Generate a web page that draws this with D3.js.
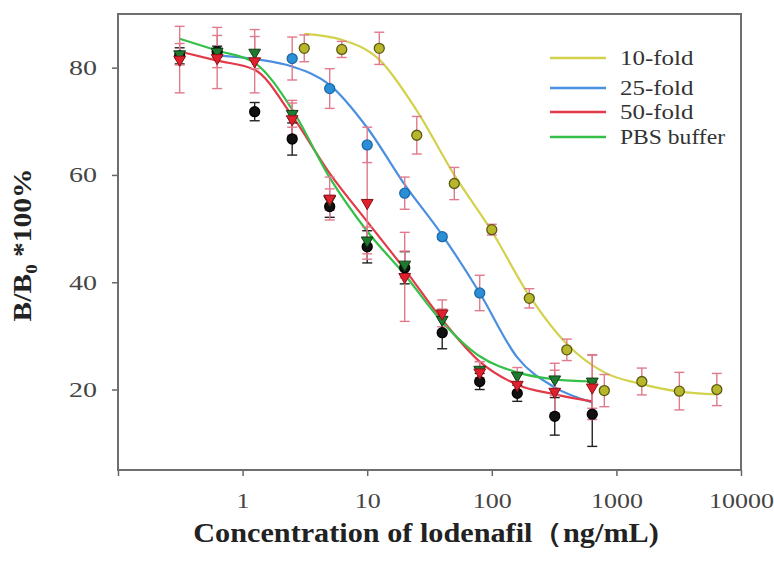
<!DOCTYPE html>
<html>
<head>
<meta charset="utf-8">
<script src="https://cdn.jsdelivr.net/npm/d3@7"></script>
<style>
  body { margin: 0; background: #fff; }
  svg { display: block; font-family: "Liberation Serif", "Times New Roman", serif; }
</style>
</head>
<body>
<div id="chart"></div>
<script>
// concentrations (ng/mL)
var conc = [0.3125, 0.625, 1.25, 2.5, 5, 10, 20, 40, 80, 160, 320, 640]
var conc10 = [3.125, 6.25, 12.5, 25, 50, 100, 200, 400, 800, 1600, 3200, 6400]
var conc25 = [2.5, 5, 10, 20, 40, 80]

// measured points
var fold10Values = [83.6, 83.4, 83.6, 67.4, 58.4, 49.8, 37.0, 27.4, 19.8, 21.5, 19.7, 20.0]
var fold10Err = [2.5, 1.5, 3, 3.5, 3, 1, 1.8, 2, 3, 2.5, 3.5, 3]
var fold25Values = [81.7, 76.1, 65.6, 56.6, 48.5, 38.0]
var fold25Err = [4, 3.7, 3.3, 3, 0.5, 3.3]
var fold50Values = [81.5, 81.8, 81.2, 70.4, 55.6, 54.8, 41.0, 34.2, 23.2, 20.9, 19.6, 20.4]
var fold50Err = [6.2, 5.7, 5.9, 3, 4, 10.5, 8.3, 2.5, 2, 2, 4, 6]
var pbsValues = [82.5, 83.0, 82.8, 71.4, 55.4, 47.8, 43.3, 33.0, 23.7, 22.6, 21.9, 21.5]
var pbsErr = [2, 3, 3, 2.5, 2, 2.5, 2.5, 2, 1.5, 1.5, 3, 5]
var blackValues = [82.2, 83.0, 71.8, 66.7, 54.1, 46.6, 42.7, 30.6, 21.5, 19.3, 15.0, 15.4]
var blackErr = [1.5, 1, 1.7, 3, 2, 3, 3, 3, 1.5, 1.5, 3.5, 6]

// fitted curves
var curve10Conc = [3.125, 6.25, 12.5, 25, 50, 100, 200, 400, 800, 1600, 3200, 6400]
var curve10Values = [86.3, 85.2, 81.5, 72.0, 60.0, 49.5, 37.5, 28.5, 23.2, 21.0, 19.6, 19.1]
var curve25Conc = [0.625, 1.25, 2.5, 5, 10, 20, 40, 80, 160, 320, 640]
var curve25Values = [82.3, 81.6, 80.2, 76.8, 68.8, 58.2, 48.8, 38.0, 26.0, 20.4, 17.6]
var curve50Values = [83.0, 81.3, 79.6, 71.0, 60.3, 51.3, 42.4, 33.0, 25.2, 20.9, 19.1, 17.8]
var curvePbsValues = [85.4, 83.2, 80.9, 72.2, 59.5, 49.5, 41.4, 32.6, 26.2, 23.2, 21.9, 21.5]

var legendNames = ["10-fold", "25-fold", "50-fold", "PBS buffer"]
var lineColors = ["#d2d24c", "#4a8fe0", "#e23a48", "#34c048"]
var xTicks = [0.1, 1, 10, 100, 1000, 10000]
var yTicks = [20, 40, 60, 80]

var width = 774, height = 564
var svg = d3.select("#chart").append("svg")
    .attr("width", width)
    .attr("height", height)

svg.append("rect").attr("width", width).attr("height", height).attr("fill", "#fff")

var x = d3.scaleLog().domain([0.1, 10000]).range([118, 741])
var y = d3.scaleLinear().domain([5, 90]).range([470, 14])

// the source figure is a bit wider than tall, so stretch glyphs to the same width
function stretch(sel, perChar) {
    sel.each(function() {
        var t = d3.select(this).text()
        if (t.length) d3.select(this).attr("textLength", t.length * perChar).attr("lengthAdjust", "spacingAndGlyphs")
    })
}

// axes
var yAxis = svg.append("g")
    .attr("transform", "translate(118,0)")
    .call(d3.axisLeft(y).tickValues(yTicks).tickSize(6).tickPadding(15).tickSizeOuter(0))
yAxis.select(".domain").remove()
yAxis.selectAll("line").attr("stroke", "#666").attr("stroke-width", 1.5)
yAxis.selectAll("text").attr("font-size", 22).attr("fill", "#444")
    .attr("font-family", "Liberation Serif")
    .call(stretch, 14)

var xAxis = svg.append("g")
    .attr("transform", "translate(0,470)")
    .call(d3.axisBottom(x).tickValues(xTicks).tickSize(6).tickPadding(16).tickSizeOuter(0)
        .tickFormat(function(d) { return d < 1 ? "" : d }))
xAxis.select(".domain").remove()
xAxis.selectAll("line").attr("stroke", "#666").attr("stroke-width", 1.5)
xAxis.selectAll("text").attr("font-size", 22).attr("fill", "#444")
    .attr("font-family", "Liberation Serif")
    .call(stretch, 13)

// frame
svg.append("rect")
    .attr("x", 118).attr("y", 14)
    .attr("width", 741 - 118).attr("height", 470 - 14)
    .attr("fill", "none")
    .attr("stroke", "#6e6e6e")
    .attr("stroke-width", 2)

// curves
var line = d3.line()
    .x(function(d) { return x(d[0]) })
    .y(function(d) { return y(d[1]) })
    .curve(d3.curveMonotoneX)

var curves = [
    d3.zip(curve10Conc, curve10Values),
    d3.zip(curve25Conc, curve25Values),
    d3.zip(conc, curve50Values),
    d3.zip(conc, curvePbsValues)
]
curves.forEach(function(c, i) {
    svg.append("path")
        .datum(c)
        .attr("d", line)
        .attr("fill", "none")
        .attr("stroke", lineColors[i])
        .attr("stroke-width", 2.2)
})

// point series
var series = [
    {xs: conc, ys: blackValues, err: blackErr, shape: "circle", fill: "#111", stroke: "#000", errColor: "#222"},
    {xs: conc, ys: pbsValues, err: pbsErr, shape: "tri", fill: "#1f7a30", stroke: "#0d3d14", errColor: "#e07a8c"},
    {xs: conc, ys: fold50Values, err: fold50Err, shape: "tri", fill: "#e0202c", stroke: "#8a1018", errColor: "#e07a8c"},
    {xs: conc25, ys: fold25Values, err: fold25Err, shape: "circle", fill: "#2a8fd6", stroke: "#1a6aa8", errColor: "#e07a8c"},
    {xs: conc10, ys: fold10Values, err: fold10Err, shape: "circle", fill: "#b8b62a", stroke: "#5c5a14", errColor: "#e07a8c"}
]

series.forEach(function(s) {
    var pts = s.xs.map(function(c, i) { return {c: c, v: s.ys[i], e: s.err[i]} })
    var g = svg.append("g")
    var eb = g.selectAll(".eb").data(pts).enter().append("g")
    eb.append("line")
        .attr("x1", function(d) { return x(d.c) })
        .attr("x2", function(d) { return x(d.c) })
        .attr("y1", function(d) { return y(d.v + d.e) })
        .attr("y2", function(d) { return y(d.v - d.e) })
        .attr("stroke", s.errColor).attr("stroke-width", 1.4)
    ;[1, -1].forEach(function(sign) {
        eb.append("line")
            .attr("x1", function(d) { return x(d.c) - 5 })
            .attr("x2", function(d) { return x(d.c) + 5 })
            .attr("y1", function(d) { return y(d.v + sign * d.e) })
            .attr("y2", function(d) { return y(d.v + sign * d.e) })
            .attr("stroke", s.errColor).attr("stroke-width", 1.4)
    })
})

series.forEach(function(s) {
    var pts = s.xs.map(function(c, i) { return {c: c, v: s.ys[i]} })
    var g = svg.append("g")
    if (s.shape == "circle") {
        g.selectAll("circle").data(pts).enter().append("circle")
            .attr("cx", function(d) { return x(d.c) })
            .attr("cy", function(d) { return y(d.v) })
            .attr("r", 5)
            .attr("fill", s.fill)
            .attr("stroke", s.stroke)
            .attr("stroke-width", 1.3)
    } else {
        g.selectAll("path").data(pts).enter().append("path")
            .attr("d", d3.symbol(d3.symbolTriangle, 60))
            .attr("transform", function(d) { return "translate(" + x(d.c) + "," + y(d.v) + ") rotate(180)" })
            .attr("fill", s.fill)
            .attr("stroke", s.stroke)
            .attr("stroke-width", 1)
    }
})

// legend
var legendY = [58, 88, 112, 137]
var legend = svg.append("g")
legendNames.forEach(function(name, i) {
    legend.append("line")
        .attr("x1", 550).attr("x2", 606)
        .attr("y1", legendY[i]).attr("y2", legendY[i])
        .attr("stroke", lineColors[i]).attr("stroke-width", 2.5)
    legend.append("text")
        .attr("x", 620).attr("y", legendY[i] + 7)
        .attr("font-size", 20)
        .attr("fill", "#333")
        .text(name)
        .call(stretch, 10.5)
})

// axis titles
var yTitle = svg.append("text")
    .attr("transform", "translate(31,245) rotate(-90) scale(1.18,1)")
    .attr("text-anchor", "middle")
    .attr("font-size", 25)
    .attr("font-weight", "bold")
    .attr("fill", "#222")
yTitle.append("tspan").text("B/B")
yTitle.append("tspan").attr("font-size", 16).attr("dy", 6).text("0")
yTitle.append("tspan").attr("dy", -6).text(" *100%")

svg.append("text")
    .attr("transform", "translate(426,542) scale(1.12,1)")
    .attr("text-anchor", "middle")
    .attr("font-size", 27)
    .attr("font-weight", "bold")
    .attr("fill", "#222")
    .text("Concentration of lodenafil（ng/mL)")
</script>
</body>
</html>
